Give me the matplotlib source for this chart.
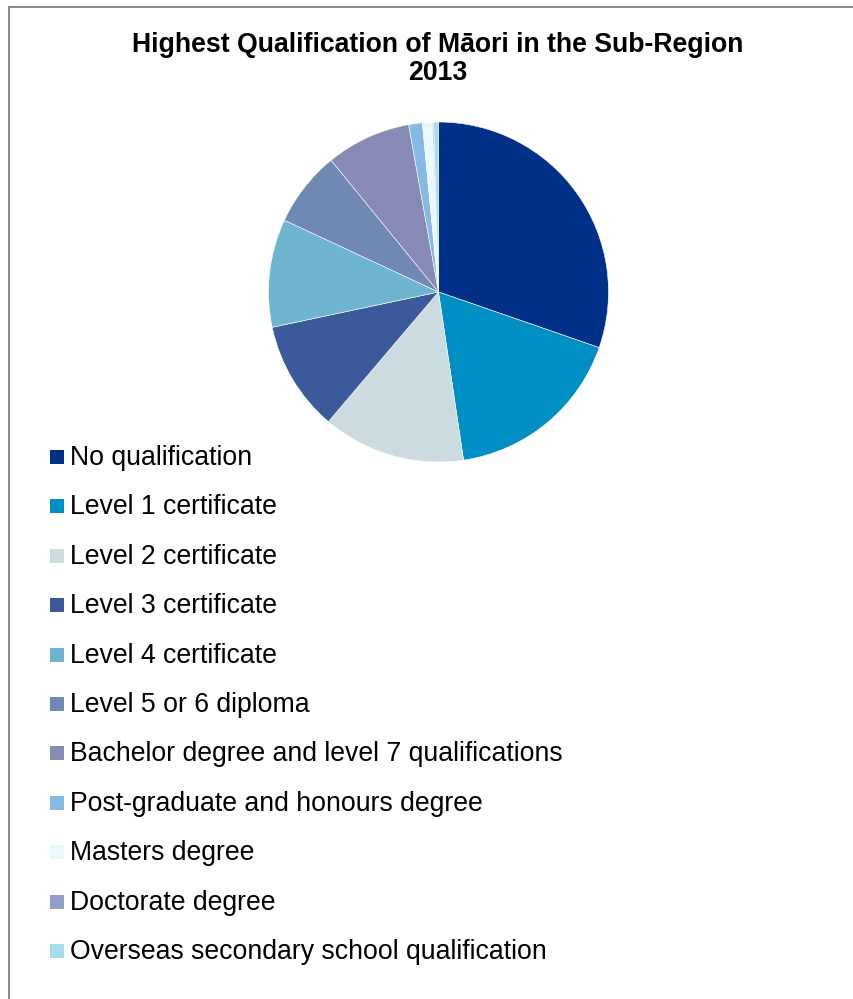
import matplotlib.pyplot as plt
from matplotlib.patches import Rectangle
from matplotlib.lines import Line2D

plt.rcParams['font.family'] = ['Liberation Sans', 'DejaVu Sans']

# categories and shares (percent)
categories = ['No qualification', 'Level 1 certificate', 'Level 2 certificate',
              'Level 3 certificate', 'Level 4 certificate', 'Level 5 or 6 diploma',
              'Bachelor degree and level 7 qualifications',
              'Post-graduate and honours degree', 'Masters degree',
              'Doctorate degree', 'Overseas secondary school qualification']
shares = [30.4, 17.4, 13.6, 10.5, 10.3, 7.2, 8.1, 1.3, 0.95, 0.12, 0.45]
colours = ['#003087', '#008FC4', '#CBDBE0', '#3A5A9B', '#70B5D0', '#7089B3',
           '#878AB5', '#84BAE3', '#EAF8FD', '#8F9FC9', '#A7DCF0']

W, H = 854, 999
fig = plt.figure(figsize=(W / 100, H / 100), dpi=100)

# pie: centre (438, 292) px, radius 170 px
cx, cy, r = 438.5, 292, 170
ax = fig.add_axes([(cx - r) / W, 1 - (cy + r) / H, 2 * r / W, 2 * r / H])
wedges, _ = ax.pie(shares, colors=colours, startangle=90, counterclock=False,
                   wedgeprops=dict(edgecolor='white', linewidth=0.4))
ax.set_xlim(-1, 1)
ax.set_ylim(-1, 1)
ax.set_aspect('equal')
ax.axis('off')

fig.text(438 / W, 1 - 59 / H, 'Highest Qualification of Māori in the Sub-Region\n2013',
         ha='center', va='center', fontsize=19.2, fontweight='bold', linespacing=1.05)

# legend drawn row by row
row_y0, row_step = 457, 49.4
for i, (lab, col) in enumerate(zip(categories, colours)):
    y = row_y0 + i * row_step
    fig.patches.append(Rectangle((50 / W, 1 - (y + 7) / H), 14 / W, 14 / H,
                                 transform=fig.transFigure, facecolor=col,
                                 edgecolor='none'))
    fig.text(70 / W, 1 - (y + 1) / H, lab, ha='left', va='center', fontsize=19.2)

# outer frame: only top and left edges are visible
fig.lines.append(Line2D([9.5 / W, 1], [1 - 6.5 / H, 1 - 6.5 / H],
                        transform=fig.transFigure, color='#8a8a8a', linewidth=1.4))
fig.lines.append(Line2D([9.5 / W, 9.5 / W], [0, 1 - 6.5 / H],
                        transform=fig.transFigure, color='#8a8a8a', linewidth=1.4))

fig.savefig('out.png', dpi=100)
